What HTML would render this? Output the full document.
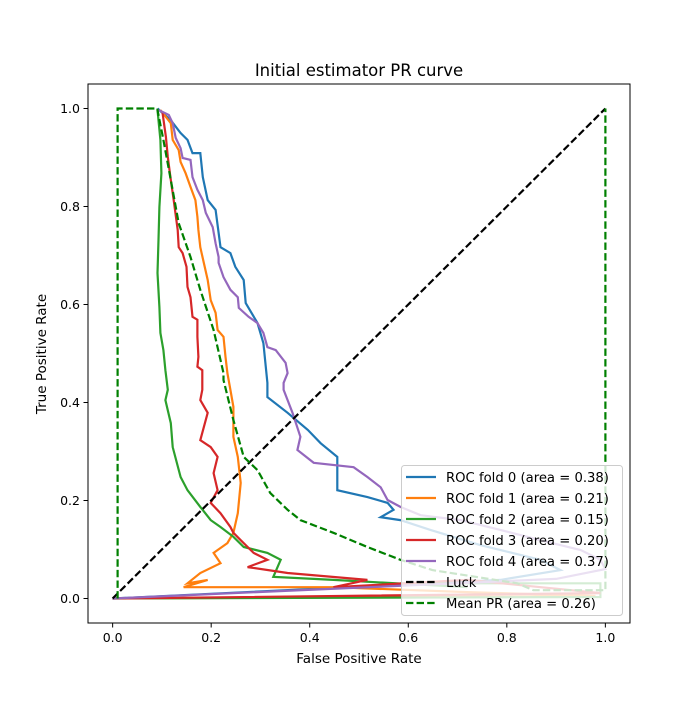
<!DOCTYPE html>
<html><head><meta charset="utf-8"><style>
body{margin:0;background:#fff}
svg text{font-family:"DejaVu Sans","Liberation Sans",sans-serif;fill:#000}
</style></head><body>
<svg id="chart" width="700" height="700" xmlns="http://www.w3.org/2000/svg">
<rect width="700" height="700" fill="#fff"/>
<text x="359" y="76" font-size="16.5" text-anchor="middle">Initial estimator PR curve</text>
<g id="plot"></g>
<rect x="88" y="84" width="542" height="539" fill="none" stroke="#000" stroke-width="1"/>
<g id="ticks"></g>
<text x="359" y="663" font-size="13.5" text-anchor="middle">False Positive Rate</text>
<text transform="translate(46,354) rotate(-90)" font-size="13.5" text-anchor="middle">True Positive Rate</text>
<g id="legend"></g>
</svg>
<script>
const xTicks=[0,0.2,0.4,0.6,0.8,1.0];
const yTicks=[0,0.2,0.4,0.6,0.8,1.0];
const xTickLabels=["0.0","0.2","0.4","0.6","0.8","1.0"];
const yTickLabels=["0.0","0.2","0.4","0.6","0.8","1.0"];
const seriesNames=["ROC fold 0 (area = 0.38)","ROC fold 1 (area = 0.21)","ROC fold 2 (area = 0.15)","ROC fold 3 (area = 0.20)","ROC fold 4 (area = 0.37)","Luck","Mean PR (area = 0.26)"];
const fold0=[[0.091,1.0],[0.118,0.976],[0.138,0.950],[0.152,0.936],[0.162,0.909],[0.178,0.909],[0.183,0.860],[0.193,0.813],[0.209,0.793],[0.219,0.717],[0.239,0.705],[0.249,0.677],[0.266,0.650],[0.270,0.603],[0.294,0.562],[0.306,0.521],[0.314,0.440],[0.314,0.411],[0.355,0.379],[0.396,0.344],[0.422,0.317],[0.456,0.289],[0.456,0.221],[0.517,0.207],[0.558,0.195],[0.570,0.181],[0.544,0.166],[0.584,0.160],[0.645,0.140],[0.746,0.109],[0.868,0.079],[0.909,0.058],[0.787,0.038],[0,0]];
const fold1=[[0.097,0.997],[0.118,0.970],[0.122,0.936],[0.134,0.915],[0.138,0.891],[0.148,0.868],[0.158,0.840],[0.168,0.813],[0.172,0.779],[0.174,0.752],[0.178,0.717],[0.185,0.685],[0.193,0.650],[0.199,0.609],[0.209,0.583],[0.213,0.548],[0.225,0.534],[0.229,0.493],[0.233,0.460],[0.239,0.426],[0.245,0.391],[0.245,0.330],[0.254,0.289],[0.260,0.236],[0.254,0.174],[0.245,0.134],[0.233,0.113],[0.205,0.093],[0.219,0.072],[0.178,0.052],[0.152,0.031],[0.193,0.038],[0.144,0.023],[0.448,0.023],[0.720,0.013],[0.98,0.005],[0,0]];
const fold2=[[0.091,0.997],[0.097,0.936],[0.099,0.868],[0.095,0.799],[0.093,0.732],[0.091,0.664],[0.095,0.595],[0.097,0.542],[0.103,0.507],[0.107,0.466],[0.112,0.426],[0.107,0.405],[0.118,0.358],[0.122,0.309],[0.138,0.248],[0.152,0.221],[0.178,0.187],[0.199,0.160],[0.219,0.146],[0.245,0.126],[0.266,0.105],[0.314,0.093],[0.341,0.079],[0.326,0.044],[0.448,0.038],[0.720,0.023],[0.584,0.031],[0.99,0.031],[0.99,0.003],[0,0]];
const fold3=[[0.101,0.993],[0.108,0.942],[0.112,0.901],[0.118,0.854],[0.124,0.813],[0.132,0.752],[0.134,0.717],[0.142,0.705],[0.150,0.677],[0.152,0.636],[0.158,0.615],[0.162,0.575],[0.172,0.569],[0.172,0.534],[0.174,0.493],[0.172,0.473],[0.182,0.466],[0.182,0.426],[0.178,0.405],[0.193,0.379],[0.178,0.323],[0.199,0.309],[0.213,0.289],[0.205,0.256],[0.213,0.221],[0.199,0.195],[0.219,0.174],[0.239,0.146],[0.245,0.134],[0.260,0.119],[0.286,0.093],[0.314,0.079],[0.274,0.064],[0.355,0.052],[0.517,0.038],[0.448,0.023],[0.72,0.038],[0.99,0.011],[0,0]];
const fold4=[[0.093,0.997],[0.114,0.987],[0.122,0.970],[0.128,0.940],[0.138,0.919],[0.142,0.899],[0.158,0.895],[0.162,0.860],[0.172,0.834],[0.183,0.813],[0.189,0.787],[0.203,0.758],[0.209,0.725],[0.215,0.697],[0.215,0.685],[0.225,0.656],[0.239,0.630],[0.254,0.615],[0.256,0.593],[0.276,0.575],[0.294,0.562],[0.306,0.542],[0.314,0.513],[0.331,0.507],[0.351,0.481],[0.355,0.460],[0.347,0.440],[0.347,0.426],[0.355,0.405],[0.365,0.379],[0.381,0.330],[0.375,0.303],[0.408,0.277],[0.489,0.268],[0.517,0.248],[0.544,0.227],[0.558,0.201],[0.584,0.187],[0.625,0.170],[0.706,0.160],[0.787,0.140],[0.868,0.119],[0.95,0.099],[0.99,0.079],[1.0,0.06],[0.9,0.04],[0,0]];
const luck=[[0,0],[1,1]];
const meanPR=[[0.01,0],[0.01,1.0],[0.091,1.0],[0.091,0.997],[0.103,0.936],[0.118,0.854],[0.134,0.766],[0.158,0.697],[0.178,0.630],[0.205,0.548],[0.225,0.460],[0.225,0.446],[0.245,0.364],[0.266,0.289],[0.294,0.262],[0.320,0.215],[0.355,0.181],[0.381,0.160],[0.448,0.134],[0.517,0.105],[0.584,0.079],[0.649,0.058],[0.821,0.031],[0.854,0.017],[1.0,0.017],[1.0,1.0]];

const NS="http://www.w3.org/2000/svg";
const L=88,R=630,T=84,B=623,xmin=-0.05,xmax=1.05,ymin=-0.05,ymax=1.05;
function sx(v){return L+(v-xmin)/(xmax-xmin)*(R-L);}
function sy(v){return B-(v-ymin)/(ymax-ymin)*(B-T);}
function mk(tag,attrs,parent){const e=document.createElementNS(NS,tag);for(const k in attrs)e.setAttribute(k,attrs[k]);parent.appendChild(e);return e;}
const plot=document.getElementById('plot');
const colors=["#1f77b4","#ff7f0e","#2ca02c","#d62728","#9467bd","#000000","#008000"];
const series=[fold0,fold1,fold2,fold3,fold4,luck,meanPR];
const keys=["fold-0","fold-1","fold-2","fold-3","fold-4","luck","mean-pr"];
series.forEach((s,i)=>{
  const p=mk('polyline',{points:s.map(d=>sx(d[0]).toFixed(1)+','+sy(d[1]).toFixed(1)).join(' '),fill:'none',stroke:colors[i],'stroke-width':2.2,'stroke-linejoin':'miter'},plot);
  if(i>=5)p.setAttribute('stroke-dasharray','7.4,3.2');
  
  
});
const ticks=document.getElementById('ticks');
xTicks.forEach((v,i)=>{
  const l=mk('line',{x1:sx(v),x2:sx(v),y1:B,y2:B+4.5,stroke:'#000'},ticks);
  
  
  const t=mk('text',{x:sx(v),y:B+19,'font-size':12.5,'text-anchor':'middle'},ticks);
  t.textContent=xTickLabels[i];
  
  
});
yTicks.forEach((v,i)=>{
  const l=mk('line',{x1:L-4.5,x2:L,y1:sy(v),y2:sy(v),stroke:'#000'},ticks);
  
  
  const t=mk('text',{x:L-8,y:sy(v)+4.5,'font-size':12.5,'text-anchor':'end'},ticks);
  t.textContent=yTickLabels[i];
  
  
});
const lg=document.getElementById('legend');
mk('rect',{x:401.5,y:465.5,width:221,height:150,rx:3,fill:'#fff','fill-opacity':0.8,stroke:'#ccc'},lg);
seriesNames.forEach((n,i)=>{
  const y=477+i*21;
  const l=mk('line',{x1:406,x2:436,y1:y,y2:y,stroke:colors[i],'stroke-width':2.2},lg);
  if(i>=5)l.setAttribute('stroke-dasharray','7.4,3.2');
  
  
  const t=mk('text',{x:446,y:y+5,'font-size':13.2},lg);
  t.textContent=n;
  
  
});
</script>
</body></html>
